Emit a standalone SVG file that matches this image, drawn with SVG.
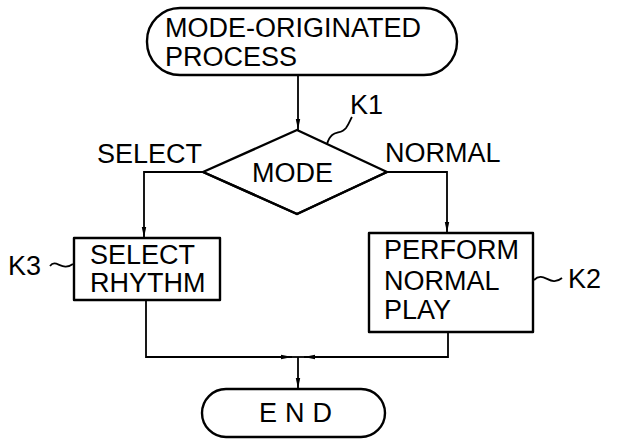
<svg xmlns="http://www.w3.org/2000/svg" width="617" height="443" viewBox="0 0 617 443">
<style>
.s{fill:none;stroke:#000;stroke-width:2.4;stroke-linejoin:round}
.c{fill:none;stroke:#000;stroke-width:1.8}
.t{font-family:"Liberation Sans",Arial,sans-serif;font-size:27px;fill:#000}
</style>
<defs>
<marker id="ah" markerUnits="userSpaceOnUse" markerWidth="11" markerHeight="6" refX="11" refY="3" orient="auto">
<path d="M0,0.8 L11,3 L0,5.2 z" fill="#000"/>
</marker>
</defs>
<rect width="617" height="443" fill="#fff"/>
<g id="connectors">
<path class="c" d="M298,75 V130" marker-end="url(#ah)"/>
<path class="c" d="M203,172 H144 V238" marker-end="url(#ah)"/>
<path class="c" d="M387,172 H447 V233" marker-end="url(#ah)"/>
<path class="c" d="M146,300 V357 H292" marker-end="url(#ah)"/>
<path class="c" d="M448,332 V357 H304" marker-end="url(#ah)"/>
<path class="c" d="M291,357 H305"/>
<path class="c" d="M298,357 V389" marker-end="url(#ah)"/>
</g>
<g id="start">
<rect class="s" x="147" y="8" width="310" height="67" rx="33" ry="33"/>
<text class="t" x="165" y="37" font-size="26">MODE-ORIGINATED</text>
<text class="t" x="165" y="66" font-size="26">PROCESS</text>
</g>
<g id="K1">
<path class="s" d="M297,130 L387,172 L297,214 L203,172 Z"/>
<path class="s" d="M387,172 L297,214 L203,172" stroke-width="3.2"/>
<text class="t" x="252" y="182" font-size="25">MODE</text>
<path class="c" d="M327,144 C332,128 340,136 346,128 C350,122 350,120 352,117"/>
<text class="t" x="350" y="114">K1</text>
</g>
<g id="labels">
<text class="t" x="97" y="163">SELECT</text>
<text class="t" x="385" y="162">NORMAL</text>
</g>
<g id="K3">
<rect class="s" x="74" y="238" width="146" height="62"/>
<text class="t" x="90" y="264">SELECT</text>
<text class="t" x="90" y="292">RHYTHM</text>
<path class="c" d="M50,266 C56,258 62,272 73,264"/>
<text class="t" x="8" y="275">K3</text>
</g>
<g id="K2">
<rect class="s" x="369" y="233" width="164" height="99"/>
<text class="t" x="384" y="259">PERFORM</text>
<text class="t" x="384" y="290">NORMAL</text>
<text class="t" x="384" y="319">PLAY</text>
<path class="c" d="M534,280 C544,270 550,288 562,278"/>
<text class="t" x="568" y="288">K2</text>
</g>
<g id="end">
<rect class="s" x="202" y="389" width="183" height="48" rx="24" ry="24"/>
<text class="t" x="259" y="422" letter-spacing="8">END</text>
</g>
</svg>
